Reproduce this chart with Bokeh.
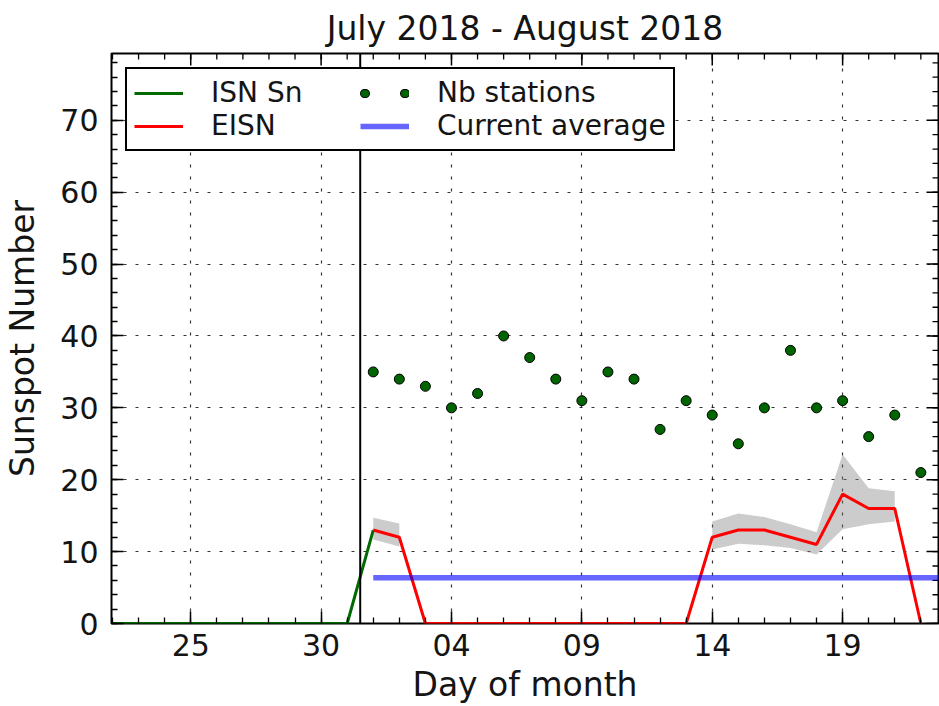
import numpy as np
import pandas as pd
from bokeh.plotting import figure
from bokeh.models import (Range1d, FixedTicker, LinearAxis, DatetimeAxis, DatetimeTickFormatter,
                          Span, Legend, LegendItem, Grid)
from bokeh.embed import file_html
from bokeh.resources import INLINE

# ---------------- data ----------------
TITLE = "July 2018 - August 2018"
X_LABEL = "Day of month"
Y_LABEL = "Sunspot Number"

isn_dates = pd.date_range("2018-07-22", "2018-08-01", freq="D")
isn_sn = [0, 0, 0, 0, 0, 0, 0, 0, 0, 0, 13]

eisn_dates = pd.date_range("2018-08-01", "2018-08-22", freq="D")
eisn = [13, 12, 0, 0, 0, 0, 0, 0, 0, 0, 0, 0, 0, 12, 13, 13, 12, 11, 18, 16, 16, 0]
eisn_low = [11.7, 10.7] + [np.nan] * 11 + [10.3, 11.1, 10.9, 10.5, 9.6, 13.1, 13.8, 14.2, np.nan]
eisn_high = [14.7, 13.9] + [np.nan] * 11 + [14.2, 15.3, 14.8, 13.8, 12.7, 23.5, 18.8, 18.4, np.nan]
nb_stations = [35, 34, 33, 30, 32, 40, 37, 34, 31, 35, 34, 27, 31, 29, 25, 30, 38, 30, 31, 26, 29, 21]
current_average = 6.35

x_tick_dates = ["2018-07-25", "2018-07-30", "2018-08-04", "2018-08-09", "2018-08-14", "2018-08-19"]
x_minor_dates = pd.date_range("2018-07-21", "2018-08-23", freq="D")
y_ticks = [0, 10, 20, 30, 40, 50, 60, 70]
y_minor_ticks = list(range(0, 80, 2))
month_boundary = "2018-07-31 12:00"
x_start, x_end = "2018-07-21 23:05", "2018-08-22 16:15"
y_start, y_end = 0, 79.3

FONT = "DejaVu Sans"
TXT = "#141414"


def ms(t):
    return pd.Timestamp(t).value / 1e6


# ---------------- figure ----------------
p = figure(width=939, height=706, x_axis_type=None, y_axis_type=None,
           x_range=Range1d(ms(x_start), ms(x_end)), y_range=Range1d(y_start, y_end),
           output_backend="svg", toolbar_location=None,
           min_border_left=110, min_border_right=1, min_border_top=53, min_border_bottom=82,
           title=TITLE)
p.background_fill_color = "white"
p.border_fill_color = "white"
p.outline_line_color = "black"
p.outline_line_width = 2

p.title.align = "center"
p.title.text_font = FONT
p.title.text_font_size = "33px"
p.title.text_font_style = "normal"
p.title.text_color = TXT
p.title.standoff = 12

xticker = FixedTicker(ticks=[ms(d) for d in x_tick_dates], minor_ticks=[ms(d) for d in x_minor_dates])
yticker = FixedTicker(ticks=y_ticks, minor_ticks=y_minor_ticks)
xfmt = DatetimeTickFormatter(days="%d", months="%d", hours="%d", years="%d", strip_leading_zeros=False)


def style_axis(ax):
    ax.axis_line_color = None
    ax.major_tick_in = 12
    ax.major_tick_out = 0
    ax.minor_tick_in = 6
    ax.minor_tick_out = 0
    ax.major_tick_line_color = "black"
    ax.major_tick_line_width = 1.5
    ax.minor_tick_line_color = "black"
    ax.minor_tick_line_width = 1.3
    ax.major_label_text_font = FONT
    ax.major_label_text_color = TXT
    ax.major_label_text_font_size = "30px"
    ax.axis_label_text_font = FONT
    ax.axis_label_text_font_style = "normal"
    ax.axis_label_text_color = TXT
    ax.axis_label_text_font_size = "33px"


xb = DatetimeAxis(ticker=xticker, formatter=xfmt, axis_label=X_LABEL)
style_axis(xb)
xb.major_label_standoff = 10
xb.axis_label_standoff = 6
p.add_layout(xb, "below")

yl = LinearAxis(ticker=yticker, axis_label=Y_LABEL)
style_axis(yl)
yl.major_label_standoff = 13
yl.axis_label_standoff = 15
p.add_layout(yl, "left")

for dim, tk in ((0, xticker), (1, yticker)):
    g = Grid(dimension=dim, ticker=tk, grid_line_color="black", grid_line_alpha=0.8,
             grid_line_width=1.2, grid_line_dash="3 9")
    p.add_layout(g)

# inward ticks on the top and right spines (matplotlib classic style)
x_major = [ms(d) for d in x_tick_dates]
x_minor = [ms(d) for d in x_minor_dates]
p.ray(x=x_major, y=y_end, length=12, angle=-np.pi / 2, length_units="screen",
      line_color="black", line_width=1.5)
p.ray(x=x_minor, y=y_end, length=6, angle=-np.pi / 2, length_units="screen",
      line_color="black", line_width=1.3)
p.ray(x=ms(x_end), y=y_ticks, length=12, angle=np.pi, length_units="screen",
      line_color="black", line_width=1.5)
p.ray(x=ms(x_end), y=y_minor_ticks, length=6, angle=np.pi, length_units="screen",
      line_color="black", line_width=1.3)

# ---------------- glyphs ----------------
lo = np.array(eisn_low, dtype=float)
hi = np.array(eisn_high, dtype=float)
idx = np.flatnonzero(~np.isnan(lo))
runs = np.split(idx, np.where(np.diff(idx) != 1)[0] + 1)
for run in runs:
    if len(run):
        p.varea(x=eisn_dates[run], y1=lo[run], y2=hi[run], fill_color="gray", fill_alpha=0.4)

r_isn = p.line(isn_dates, isn_sn, line_color="#006a00", line_width=3)
r_eisn = p.line(eisn_dates, eisn, line_color="red", line_width=3)
p.scatter(eisn_dates, nb_stations, size=10, fill_color="#006400", line_color="black", line_width=1)
r_avg = p.line([eisn_dates[0], pd.Timestamp(x_end) + pd.Timedelta(days=1)],
               [current_average, current_average], line_color="blue", line_alpha=0.6, line_width=5.5)

p.add_layout(Span(location=ms(month_boundary), dimension="height", line_color="black", line_width=2))

# legend proxy for the station counts: two dots, as matplotlib draws them (hidden in the plot)
r_dot_edge = p.line(eisn_dates, nb_stations, line_color="black", line_width=9,
                    line_cap="round", line_dash="1 39", line_dash_offset=36, visible=False)
r_dot_fill = p.line(eisn_dates, nb_stations, line_color="#006400", line_width=7,
                    line_cap="round", line_dash="1 39", line_dash_offset=36, visible=False)

legend = Legend(items=[
    LegendItem(label="ISN Sn", renderers=[r_isn]),
    LegendItem(label="EISN", renderers=[r_eisn]),
    LegendItem(label="Nb stations", renderers=[r_dot_edge, r_dot_fill]),
    LegendItem(label="Current average", renderers=[r_avg]),
], location="top_left", ncols=2)
legend.margin = 14
legend.padding = 7
legend.spacing = 0
legend.glyph_width = 49
legend.glyph_height = 20
legend.label_standoff = 28
legend.label_width = 149
legend.label_text_font = FONT
legend.label_text_font_size = "28px"
legend.label_text_color = TXT
legend.border_line_color = "black"
legend.border_line_alpha = 1
legend.border_line_width = 2
legend.background_fill_color = "white"
legend.background_fill_alpha = 1
p.add_layout(legend)

open("out.html", "w").write(file_html(p, INLINE))
